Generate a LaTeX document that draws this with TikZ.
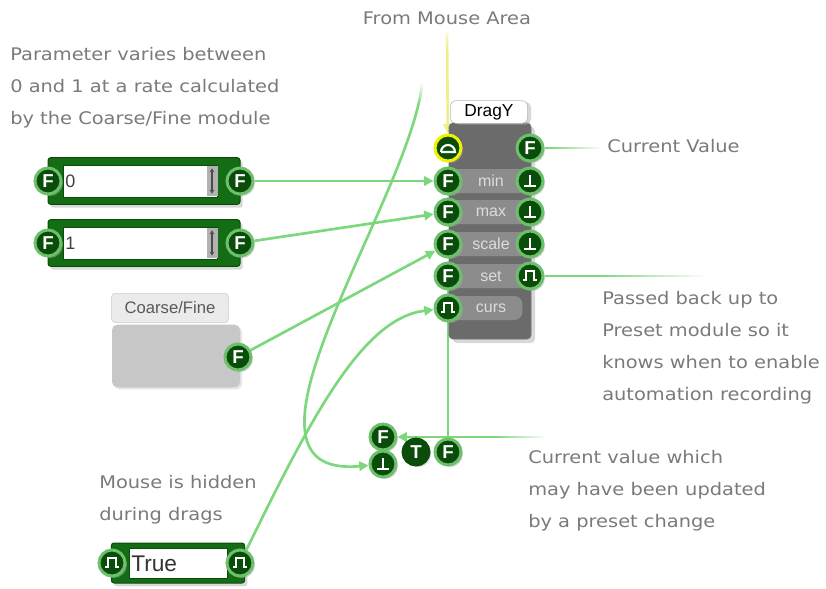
\documentclass[tikz,border=0pt]{standalone}
\usepackage{fontspec}
\usetikzlibrary{arrows.meta,shadows,fadings,positioning,calc}

\newfontfamily\notefont[FakeStretch=1.12]{DejaVu Sans}
\newfontfamily\uifont{Liberation Sans}

\definecolor{filo}{HTML}{7DD77D}
\definecolor{filogiallo}{HTML}{EEEE8A}
\definecolor{spinascuro}{HTML}{0A4D0A}
\definecolor{spinanello}{HTML}{6CC06C}
\definecolor{anellogiallo}{HTML}{F2F200}
\definecolor{cornice}{HTML}{146C14}
\definecolor{corpo}{HTML}{6B6B6B}
\definecolor{riga}{HTML}{8C8C8C}
\definecolor{testoriga}{HTML}{DCDCDC}
\definecolor{nota}{HTML}{7A7A7A}

\pgfdeclarelayer{fili}
\pgfsetlayers{fili,main}

% simboli dentro le prese
\newcommand{\segnobot}[1]{\draw[simbolo] ([shift={(-6,5)}]#1.center) -- ++(12,0)
  ([shift={(0,5)}]#1.center) -- ++(0,-11);}
\newcommand{\segnoimpulso}[1]{\draw[simbolo] ([shift={(-7,4)}]#1.center) -- ++(3,0)
  -- ++(0,-9) -- ++(8,0) -- ++(0,9) -- ++(3,0);}
\newcommand{\segnocupola}[1]{\draw[simbolo] ([shift={(-7,4)}]#1.center) -- ++(14,0)
  arc[start angle=0, end angle=-180, radius=7];}

\begin{document}
\begin{tikzpicture}[x=0.75pt,y=-0.75pt]

\tikzset{
    presa/.style={
        circle, minimum size=19.5pt, inner sep=0pt,
        fill=spinascuro, draw=spinanello, line width=2.25pt,
        text=white, font=\uifont\bfseries\fontsize{14}{14}\selectfont,
        drop shadow={shadow xshift=1.5pt, shadow yshift=-1.5pt, fill=black!35, opacity=.5}
    },
    simbolo/.style={white, line width=1.6pt},
    filo/.style={draw=filo, line width=2pt},
    freccia/.style={-{Triangle[length=7pt,width=7pt]}},
    nota_testo/.style={
        align=left, inner sep=0pt, anchor=north west, text=nota,
        font=\notefont\fontsize{13}{24}\selectfont
    },
    cornice_num/.style={
        draw=spinascuro, fill=cornice, line width=.75pt, rounded corners=2pt,
        inner sep=0pt,
        drop shadow={shadow xshift=2pt, shadow yshift=-2.5pt, fill=black!30, opacity=.5}
    },
    campo/.style={fill=white, draw=spinascuro, line width=.4pt, inner sep=0pt},
    freccine/.style={fill=black!30, inner sep=0pt, minimum width=8.25pt, minimum height=22.5pt},
    etichetta/.style={font=\uifont\fontsize{12}{12}\selectfont, text=testoriga, inner sep=0pt},
    barra/.style={fill=riga, rounded corners=6pt, inner sep=0pt,
        minimum width=60pt, minimum height=18pt}
}

\useasboundingbox (0,0) rectangle (826,589);

% commenti
\node[nota_testo] (param) at (10,47)
    {Parameter varies between\\0 and 1 at a rate calculated\\by the Coarse/Fine module};
\node[nota_testo, anchor=north] (mouse) at (447,12) {From Mouse Area};
\node[nota_testo] (valcorr) at (607,139) {Current Value};
\node[nota_testo] (preset) at (602,291)
    {Passed back up to\\Preset module so it\\knows when to enable\\automation recording};
\node[nota_testo] (aggiorn) at (528,450)
    {Current value which\\may have been updated\\by a preset change};
\node[nota_testo] (nascosto) at (99,475) {Mouse is hidden\\during drags};

% modulo DragY
\node[fill=corpo, draw=black!55, line width=.5pt, rounded corners=3pt,
    minimum width=61.5pt, minimum height=162pt, inner sep=0pt,
    drop shadow={shadow xshift=3pt, shadow yshift=-3pt, fill=black!30, opacity=.5}]
    (drag) at (490,231) {};
\node[fill=white, draw=black!30, rounded corners=4pt, minimum width=58pt,
    minimum height=17pt, inner sep=0pt, font=\uifont\fontsize{13}{13}\selectfont,
    drop shadow={shadow xshift=2.5pt, shadow yshift=-1pt, fill=black!30, opacity=.5}]
    (titolo) at (489,112) {DragY};

\node[barra] (bmin) at (489,181) {};
\node[barra] (bmax) at (489,212) {};
\node[barra] (bscale) at (489,244) {};
\node[barra] (bset) at (489,276) {};
\node[barra, minimum width=56pt] (bcurs) at (485,308) {};
\node[etichetta] at (491,181) {min};
\node[etichetta] at (491,212) {max};
\node[etichetta] at (491,244) {scale};
\node[etichetta] at (491,276) {set};
\node[etichetta] at (491,308) {curs};

\node[presa, draw=anellogiallo] (dtrig) at (448,148) {};
\segnocupola{dtrig}
\node[presa] (dout) at (530,148) {F};
\node[presa] (dmin) at (448,181) {F};
\node[presa] (dminr) at (530,181) {};
\segnobot{dminr}
\node[presa] (dmax) at (448,212) {F};
\node[presa] (dmaxr) at (530,212) {};
\segnobot{dmaxr}
\node[presa] (dscale) at (448,244) {F};
\node[presa] (dscaler) at (530,244) {};
\segnobot{dscaler}
\node[presa] (dset) at (448,276) {F};
\node[presa] (dsetr) at (530,276) {};
\segnoimpulso{dsetr}
\node[presa] (dcurs) at (448,308) {};
\segnoimpulso{dcurs}

% numeri 0 e 1
\node[cornice_num, minimum width=144pt, minimum height=35pt] (zero) at (144,181) {};
\node[campo, minimum width=115.5pt, minimum height=24pt] (zcampo) at (140,181) {};
\node[freccine] (zspin) at (212,181) {};
\draw[{Stealth[length=3pt,width=3.5pt]}-{Stealth[length=3pt,width=3.5pt]}, black!70, line width=.8pt]
    ([yshift=-2pt]zspin.north) -- ([yshift=2pt]zspin.south);
\node[anchor=west, inner sep=0pt, text=black!75, font=\uifont\fontsize{13.5}{13.5}\selectfont]
    (zval) at (65,181) {0};
\node[presa] (zin) at (48,181) {F};
\node[presa] (zout) at (240,181) {F};

\node[cornice_num, minimum width=144pt, minimum height=35pt] (uno) at (144,243) {};
\node[campo, minimum width=115.5pt, minimum height=24pt] (ucampo) at (140,243) {};
\node[freccine] (uspin) at (212,243) {};
\draw[{Stealth[length=3pt,width=3.5pt]}-{Stealth[length=3pt,width=3.5pt]}, black!70, line width=.8pt]
    ([yshift=-2pt]uspin.north) -- ([yshift=2pt]uspin.south);
\node[anchor=west, inner sep=0pt, text=black!75, font=\uifont\fontsize{13.5}{13.5}\selectfont]
    (uval) at (65,243) {1};
\node[presa] (uin) at (48,243) {F};
\node[presa] (uout) at (240,243) {F};

% Coarse/Fine
\node[fill=black!22, rounded corners=4pt, minimum width=96pt, minimum height=47pt,
    inner sep=0pt,
    drop shadow={shadow xshift=1.5pt, shadow yshift=-1.5pt, fill=black!20, opacity=.5}]
    (cf) at (176,356) {};
\node[fill=black!8, draw=black!20, rounded corners=3pt, minimum width=88pt,
    minimum height=22pt, inner sep=0pt, text=black!65,
    font=\uifont\fontsize{12.5}{12.5}\selectfont] (cftab) at (170,308) {Coarse/Fine};
\node[presa] (cfout) at (238,357) {F};

% selettore
\node[presa] (sf) at (383,437) {F};
\node[presa] (sbot) at (383,464) {};
\segnobot{sbot}
\node[presa, draw=spinascuro] (st) at (416,452) {T};
\node[presa] (sout) at (448,452) {F};

% True
\node[cornice_num, minimum width=100pt, minimum height=30pt] (vero) at (178,563) {};
\node[campo, minimum width=73.5pt, minimum height=22.5pt] (vcampo) at (178,563) {};
\node[anchor=west, inner sep=0pt, text=black!80, font=\uifont\fontsize{17}{17}\selectfont]
    (vval) at (131,564) {True};
\node[presa] (vin) at (112,563) {};
\segnoimpulso{vin}
\node[presa] (vout) at (240,563) {};
\segnoimpulso{vout}

% estremi liberi
\coordinate (mfrom) at (447,33);
\coordinate (pfrom) at (422,84);
\coordinate (cvend) at (600,148);
\coordinate (pbend) at (705,276);
\coordinate (pvend) at (545,437);

% fili
\begin{pgfonlayer}{fili}
\draw[filo, freccia] (zout) -- (dmin);
\draw[filo, freccia] (uout) -- (dmax);
\draw[filo, freccia] (cfout) -- (dscale);
\draw[filo, freccia] (vout) .. controls (310,420) and (362,318) .. (dcurs);
\draw[filo, freccia] (pfrom) .. controls (410,200) and (210,480) .. (sbot);
\draw[filo] (sout) -- (dset);
\draw[filo, freccia] (pvend) -- (sf);
\draw[filo] (dout) -- (cvend);
\draw[filo] (dsetr) -- (pbend);
\draw[draw=filogiallo, line width=2pt, freccia] (mfrom) -- (dtrig);
\end{pgfonlayer}

% sfumature
\foreach \i [evaluate=\i as \op using 0.9-\i/11] in {0,...,9}
    \fill[white, opacity=\op] (405,{84+2*\i}) rectangle (434,{86+2*\i});
\foreach \i [evaluate=\i as \op using 0.6-\i/14] in {0,...,8}
    \fill[white, opacity=\op] (440,{32+2*\i}) rectangle (454,{34+2*\i});
\fill[white, path fading=west] (550,140) rectangle (602,156);
\fill[white, path fading=west] (600,268) rectangle (707,284);
\fill[white, path fading=west] (495,429) rectangle (547,445);

\end{tikzpicture}
\end{document}
